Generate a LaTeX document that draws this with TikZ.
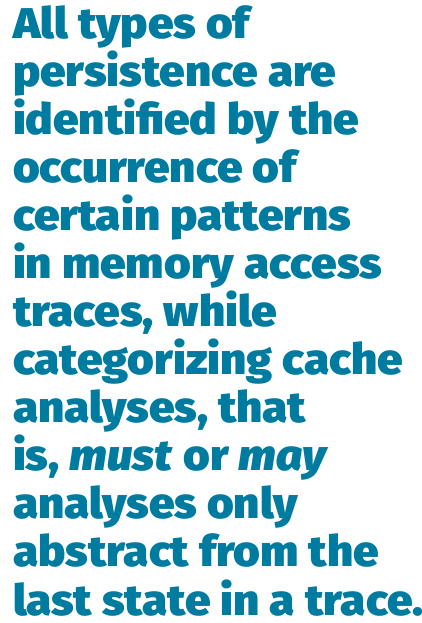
\documentclass[tikz,border=0pt]{standalone}
\usepackage{fontspec}
\setmainfont{Fira Sans}[UprightFont=* Black, ItalicFont=* Black Italic, FakeStretch=1.065]
\definecolor{quoteblue}{HTML}{007BA0}
\begin{document}
\begin{tikzpicture}[x=1pt,y=1pt,
  qline/.style={anchor=base west, inner sep=0pt, outer sep=0pt, text=quoteblue,
    font=\fontsize{43}{48}\selectfont}]
\useasboundingbox (0,0) rectangle (421,623);
\node[qline] (l1) at (13,584) {All types of};
\node[qline] (l2) at (13,536) {persistence are};
\node[qline] (l3) at (13,488) {identified by the};
\node[qline] (l4) at (13,440) {occurrence of};
\node[qline] (l5) at (13,392) {certain patterns};
\node[qline] (l6) at (13,344) {in memory access};
\node[qline] (l7) at (13,296) {traces, while};
\node[qline] (l8) at (13,248) {categorizing cache};
\node[qline] (l9) at (13,200) {analyses, that};
\node[qline] (l10) at (13,152) {is, \textit{must} or \textit{may}};
\node[qline] (l11) at (13,104) {analyses only};
\node[qline] (l12) at (13,56) {abstract from the};
\node[qline] (l13) at (13,8) {last state in a trace.};
\end{tikzpicture}
\end{document}
